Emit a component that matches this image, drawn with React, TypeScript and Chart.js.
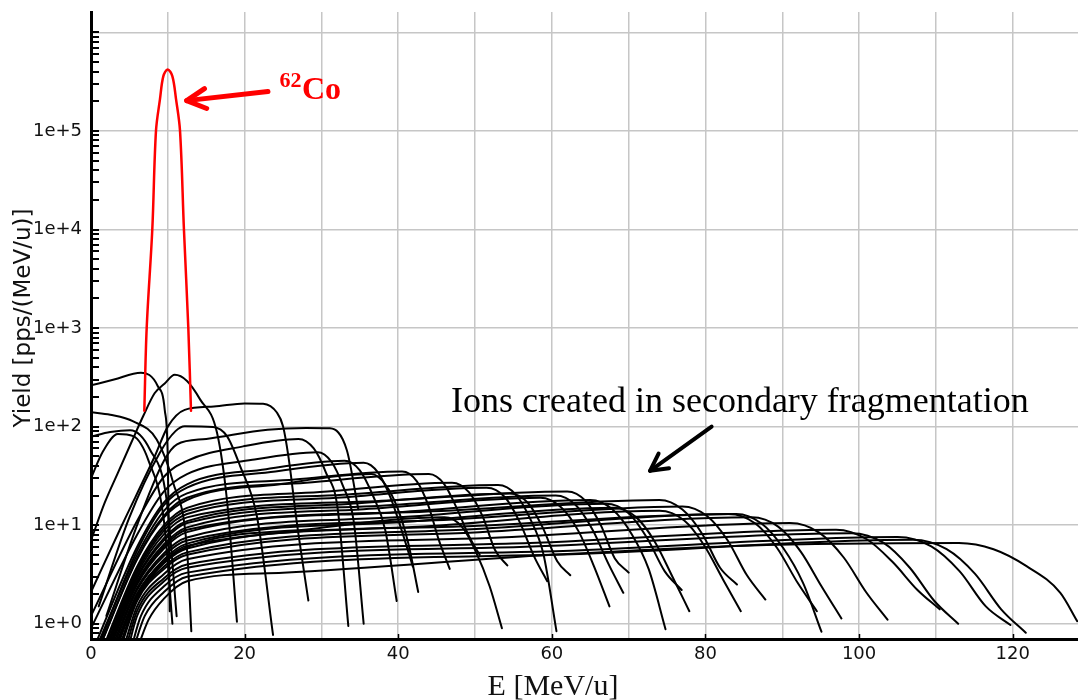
import React, { useEffect, useRef } from "react";
import { Chart, registerables } from "chart.js";

Chart.register(...registerables);

// ---------- axes ----------
const X_MIN = 0;
const X_MAX = 128.5;
const Y_MIN = 0.705;
const Y_MAX = 1.61e6;
const X_GRID = [0, 10, 20, 30, 40, 50, 60, 70, 80, 90, 100, 110, 120];
const X_LABELED = [0, 20, 40, 60, 80, 100, 120];
const Y_MAJOR = [1, 10, 100, 1e3, 1e4, 1e5, 1e6];
const Y_LABELS = ["1e+0", "1e+1", "1e+2", "1e+3", "1e+4", "1e+5", ""];
const Y_MINOR_MULT = [2, 3, 4, 5, 6, 7, 8, 9];
const Y_MINOR_LOW = [0.8, 0.9];

// ---------- data: 62Co peak (red) ----------
const CO62: number[][] = [[6.94, 145], [7.25, 1000], [7.98, 1e4], [8.46, 1e5], [8.98, 2.1e5], [9.42, 3.6e5], [9.98, 4.2e5], [10.59, 3.6e5], [11.07, 2.1e5], [11.59, 1e5], [12.1, 1e4], [12.67, 1e3], [13.02, 145]];

// ---------- data: ions created in secondary fragmentation (black) ----------
const HUMP_A = [[0, 262], [3, 300], [6.5, 352], [8.7, 257], [9.6, 148], [10.0, 46], [10.25, 1.34]];
const HUMP_B = [[0, 7], [1.8, 17], [3.5, 34], [5.25, 69], [6.8, 128], [8.3, 219], [9.6, 274], [10.9, 335], [12.5, 290], [14.2, 189], [16.4, 87], [17.7, 18], [19.0, 1.05]];
const HUMP_C = [[0, 140], [2.5, 132], [5.5, 113], [8.55, 74], [10.7, 27], [12.5, 5.7], [13.06, 0.84]];
const HUMP_D = [[0, 79], [2.5, 88], [5.1, 92], [7.7, 58], [9.85, 18], [11.15, 1.19]];
const HUMP_E = [[0, 30], [1.5, 55], [3.5, 84], [5.5, 80], [7.5, 45], [9.5, 11], [10.6, 1.0]];
const ION_F = [[0, 2.1], [3.95, 9.7], [8.3, 50], [10, 100], [12.2, 148], [16, 160], [20, 172], [22.4, 171], [24.2, 139], [25.0, 101], [25.7, 50], [26.8, 10.6], [28.3, 1.72]];
const ION_G = [[1, 1.5], [5, 12], [9, 55], [11, 90], [12.2, 101], [15.9, 99], [17.7, 80], [19.4, 40], [21.6, 12.3], [23.7, 0.77]];
const ION_H = [[2, 1.2], [6, 10], [9.5, 45], [11.2, 66], [15, 75], [23, 93], [28, 97], [31.1, 96], [33.3, 58], [34.8, 14.5]];
const ION_1 = [[0, 1.2], [6, 11], [9.5, 31], [12.5, 45], [19.8, 63], [27, 75], [29, 60], [30.6, 34], [32.1, 15], [33.5, 0.95]];
const ION_2 = [[0, 0.9], [6, 8], [9.5, 22], [12.5, 33], [21, 46], [29.5, 55], [31.3, 44], [32.8, 25], [34.2, 11], [35.5, 1.0]];
const ION_3 = [[0.5, 0.6], [6, 6], [9.5, 17], [12.5, 26], [22.8, 37], [33, 45], [35, 36], [36.7, 20], [38.3, 9], [39.8, 1.7]];
const ION_4 = [[1, 0.6], [6, 5.5], [9.5, 16], [12.5, 24], [24, 35], [35.5, 43], [37.4, 34], [39, 19], [40.5, 8.6], [41.9, 3.8]];
const ION_5 = [[1.2, 0.6], [6, 4.5], [9.5, 12], [12.5, 18], [24.5, 26], [36.5, 33], [38.3, 26], [39.9, 15], [41.3, 6.6], [42.6, 2.1]];
const ION_6 = [[0.8, 0.6], [6, 5], [9.5, 14], [12.5, 21], [26.5, 29], [40.5, 35], [42.4, 28], [43.9, 16], [45.3, 7], [46.7, 3.6]];
const ION_7 = [[1, 0.55], [6, 4.6], [9.5, 12.5], [12.5, 19], [28, 27], [44, 33], [46, 26], [47.6, 15], [49.3, 7.5], [50.6, 5.0]];
const ION_8 = [[3, 0.55], [6, 1.8], [9.5, 4.2], [12.5, 6], [29, 9.2], [46, 12], [48.3, 9.6], [50.1, 5.4], [51.9, 2.4], [53.5, 0.9]];
const ION_9 = [[1.5, 0.55], [6, 3.8], [9.5, 10], [12.5, 15], [29.8, 21.7], [47, 27], [49.2, 21.6], [51, 12.2], [52.6, 5.6], [54.2, 3.9]];
const ION_10 = [[1.8, 0.55], [6, 3.4], [9.5, 8.8], [12.5, 13], [32, 19], [51.5, 24], [53.9, 19.2], [55.8, 10.8], [57.7, 4.8], [59.4, 2.7]];
const ION_11 = [[1.6, 0.55], [6, 3.6], [9.5, 9.4], [12.5, 14], [32.8, 20.4], [53, 25.5], [55.3, 20.4], [57.2, 11.5], [58.9, 5.1], [60.6, 0.84]];
const ION_12 = [[2, 0.55], [6, 3], [9.5, 7.4], [12.5, 11], [33.5, 16.4], [54.5, 21], [56.9, 16.8], [58.8, 9.5], [60.7, 4.3], [62.4, 3.1]];
const ION_13 = [[2.2, 0.55], [6, 2.7], [9.5, 6.4], [12.5, 9.5], [35.5, 14.5], [58.5, 19], [61.2, 15.2], [63.5, 8.6], [65.5, 3.8], [67.5, 1.5]];
const ION_14 = [[2, 0.55], [6, 2.9], [9.5, 7], [12.5, 10.5], [36.5, 15.6], [60.5, 20], [63.1, 16], [65.3, 9], [67.4, 4], [69.3, 2.06]];
const ION_15 = [[1.9, 0.55], [6, 3.2], [9.5, 8.1], [12.5, 12], [37, 17.5], [62, 22], [64.4, 17.6], [66.4, 9.9], [68.2, 4.6], [70, 3.3]];
const ION_16 = [[2.4, 0.55], [6, 2.5], [9.5, 5.8], [12.5, 8.5], [38.8, 13.4], [65, 18], [67.9, 14.4], [70.4, 8.1], [72.6, 3.6], [74.8, 0.88]];
const ION_17 = [[2.6, 0.55], [6, 2.3], [9.5, 5.2], [12.5, 7.5], [39.8, 12], [67, 16.5], [70, 13.2], [72.4, 7.4], [74.7, 3.4], [76.9, 2.2]];
const ION_18 = [[3, 0.55], [6, 2], [9.5, 4.5], [12.5, 6.5], [40.3, 10.7], [68, 15], [71, 12], [73.4, 6.8], [75.7, 3], [77.9, 1.34]];
const ION_19 = [[2.3, 0.55], [6, 2.6], [9.5, 6.1], [12.5, 9], [43.3, 13.7], [74, 18], [77, 14.4], [79.6, 8.1], [81.9, 3.7], [84.1, 2.5]];
const ION_20 = [[3.3, 0.55], [6, 1.9], [9.5, 4.1], [12.5, 5.8], [43.3, 9.7], [74, 14], [77.2, 11.2], [79.8, 6.3], [82.3, 2.8], [84.6, 1.34]];
const ION_21 = [[2.8, 0.55], [6, 2.2], [9.5, 4.9], [12.5, 7], [44.8, 11.2], [77, 15.5], [80.2, 12.4], [82.9, 7], [85.4, 3.1], [87.8, 1.76]];
const ION_22 = [[3.2, 0.55], [6, 2], [9.5, 4.3], [12.5, 6.2], [47.8, 9.7], [83, 13], [86.5, 10.4], [89.3, 5.9], [92, 2.6], [94.5, 1.34]];
const ION_23 = [[3.6, 0.55], [6, 1.8], [9.5, 3.8], [12.5, 5.3], [48.3, 9], [84, 13], [87.3, 10.4], [90.1, 5.9], [92.7, 2.6], [95.1, 0.83]];
const ION_24 = [[3.8, 0.55], [6, 1.7], [9.5, 3.6], [12.5, 5], [49.3, 8.4], [86, 12], [89.5, 9.6], [92.4, 5.4], [95.1, 2.4], [97.7, 1.13]];
const ION_25 = [[4.2, 0.55], [6, 1.5], [9.5, 3.2], [12.5, 4.5], [51.8, 7.4], [91, 10.5], [94.8, 8.4], [98, 4.7], [100.9, 2.1], [103.7, 1.1]];
const ION_26 = [[4.5, 0.55], [6, 1.35], [9.5, 2.9], [12.5, 4], [54.8, 6.5], [97, 9], [101, 7.2], [104.4, 4.2], [107.6, 2.2], [110.5, 1.4]];
const ION_27 = [[4.8, 0.55], [6, 1.2], [9.5, 2.7], [12.5, 3.7], [55.8, 6], [99, 8.3], [103.2, 6.6], [106.6, 3.7], [109.8, 1.7], [112.9, 1.0]];
const ION_28 = [[5.2, 0.55], [6.5, 1.2], [9.5, 2.4], [12.5, 3.3], [58.8, 5.4], [105, 7.6], [109.4, 6.1], [113.1, 3.4], [116.5, 1.5], [119.7, 0.97]];
const ION_29 = [[5.5, 0.55], [7, 1.2], [9.5, 2.1], [12.5, 3], [59.8, 5], [107, 7.1], [111.4, 5.7], [115.1, 3.2], [118.5, 1.4], [121.7, 0.81]];
const ION_30 = [[6, 0.55], [7.5, 1.1], [9.5, 1.8], [12.5, 2.7], [25, 3.3], [60, 5], [85, 6.2], [113, 6.6], [117.5, 5.7], [121.8, 3.84], [126.2, 2.06], [128.4, 1.06]];

const FRAGMENTS = [
  HUMP_A, HUMP_B, HUMP_C, HUMP_D, HUMP_E, ION_F, ION_G, ION_H,
  ION_1, ION_2, ION_3, ION_4, ION_5, ION_6, ION_7, ION_8, ION_9, ION_10,
  ION_11, ION_12, ION_13, ION_14, ION_15, ION_16, ION_17, ION_18, ION_19, ION_20,
  ION_21, ION_22, ION_23, ION_24, ION_25, ION_26, ION_27, ION_28, ION_29, ION_30,
];

// ---------- annotations (data coordinates) ----------
const RED_ARROW = { from: [23.04, 2.51e5], to: [12.46, 2.03e5] };
const BLACK_ARROW = { from: [80.8, 100], to: [72.78, 35.6] };
const CO_MASS = { text: "62", at: [24.54, 2.78e5] };
const CO_SYMBOL = { text: "Co", at: [27.47, 2.11e5] };
const IONS_TEXT = { text: "Ions created in secondary fragmentation", at: [46.87, 140.3] };
const X_TITLE = "E [MeV/u]";
const Y_TITLE = "Yield [pps/(MeV/u)]";

const toXY = (pts: number[][]) => pts.map(([x, y]) => ({ x, y }));

function drawArrow(ctx: CanvasRenderingContext2D, x1: number, y1: number, x2: number, y2: number, color: string, lw: number, headLen: number, headHalf: number) {
  ctx.strokeStyle = color;
  ctx.lineWidth = lw;
  ctx.lineCap = "round";
  ctx.lineJoin = "round";
  ctx.beginPath();
  ctx.moveTo(x1, y1);
  ctx.lineTo(x2, y2);
  ctx.stroke();
  const dx = x2 - x1, dy = y2 - y1;
  const L = Math.hypot(dx, dy);
  const ux = dx / L, uy = dy / L;
  const bx = x2 - ux * headLen, by = y2 - uy * headLen;
  ctx.beginPath();
  ctx.moveTo(bx - uy * headHalf, by + ux * headHalf);
  ctx.lineTo(x2, y2);
  ctx.lineTo(bx + uy * headHalf, by - ux * headHalf);
  ctx.stroke();
}

const overlayPlugin = {
  id: "overlay",
  afterDraw(chart: any) {
    const { ctx, chartArea } = chart;
    const xs = chart.scales.x;
    const ys = chart.scales.y;
    ctx.save();
    // inner tick marks on Y axis (majors + minors)
    const yTicks: number[] = [...Y_MAJOR, ...Y_MINOR_LOW];
    for (const d of Y_MAJOR.slice(0, 6)) for (const m of Y_MINOR_MULT) yTicks.push(m * d);
    ctx.strokeStyle = "#000";
    ctx.lineWidth = 2;
    for (const v of yTicks) {
      if (v < Y_MIN || v > Y_MAX) continue;
      const py = Math.round(ys.getPixelForValue(v));
      ctx.beginPath();
      ctx.moveTo(chartArea.left, py);
      ctx.lineTo(chartArea.left + 8, py);
      ctx.stroke();
    }
    // small tick marks on X axis
    ctx.lineWidth = 1.5;
    for (const v of X_LABELED) {
      const px = Math.round(xs.getPixelForValue(v)) + 0.5;
      ctx.beginPath();
      ctx.moveTo(px, chartArea.bottom);
      ctx.lineTo(px, chartArea.bottom - 5);
      ctx.stroke();
    }
    // arrows
    drawArrow(ctx,
      xs.getPixelForValue(RED_ARROW.from[0]), ys.getPixelForValue(RED_ARROW.from[1]),
      xs.getPixelForValue(RED_ARROW.to[0]), ys.getPixelForValue(RED_ARROW.to[1]),
      "#ff0000", 5, 19, 10);
    drawArrow(ctx,
      xs.getPixelForValue(BLACK_ARROW.from[0]), ys.getPixelForValue(BLACK_ARROW.from[1]),
      xs.getPixelForValue(BLACK_ARROW.to[0]), ys.getPixelForValue(BLACK_ARROW.to[1]),
      "#000", 4, 17, 9);
    // texts
    ctx.textAlign = "left";
    ctx.textBaseline = "alphabetic";
    ctx.fillStyle = "#ff0000";
    ctx.font = "bold 22px 'Liberation Serif'";
    ctx.fillText(CO_MASS.text, xs.getPixelForValue(CO_MASS.at[0]), ys.getPixelForValue(CO_MASS.at[1]));
    ctx.font = "bold 32px 'Liberation Serif'";
    ctx.fillText(CO_SYMBOL.text, xs.getPixelForValue(CO_SYMBOL.at[0]), ys.getPixelForValue(CO_SYMBOL.at[1]));
    ctx.fillStyle = "#000";
    ctx.font = "36px 'Liberation Serif'";
    ctx.fillText(IONS_TEXT.text, xs.getPixelForValue(IONS_TEXT.at[0]), ys.getPixelForValue(IONS_TEXT.at[1]));
    // axis titles
    ctx.fillStyle = "#111";
    ctx.font = "30px 'Liberation Serif'";
    ctx.textAlign = "center";
    ctx.fillText(X_TITLE, 553, 695);
    ctx.save();
    ctx.translate(30, 318);
    ctx.rotate(-Math.PI / 2);
    ctx.font = "23px 'DejaVu Sans'";
    ctx.textAlign = "center";
    ctx.fillText(Y_TITLE, 0, 0);
    ctx.restore();
    ctx.restore();
  },
};

export default function App() {
  const ref = useRef<HTMLCanvasElement>(null);
  useEffect(() => {
    document.body.style.margin = "0";
    const canvas = ref.current;
    if (!canvas) return;
    const datasets: any[] = [
      { data: toXY(CO62), borderColor: "#ff0000", borderWidth: 2.5, cubicInterpolationMode: "default", tension: 0.35 },
      ...FRAGMENTS.map((d) => ({ data: toXY(d), borderColor: "#000", borderWidth: 2 })),
    ];
    const tickFont = { family: "'DejaVu Sans'", size: 18 };
    const chart = new Chart(canvas, {
      type: "line",
      data: { datasets },
      options: {
        responsive: false,
        animation: false,
        devicePixelRatio: 1,
        events: [],
        elements: {
          point: { radius: 0 },
          line: { cubicInterpolationMode: "monotone", capBezierPoints: false, borderJoinStyle: "round", borderCapStyle: "round", fill: false },
        },
        plugins: { legend: { display: false }, tooltip: { enabled: false } },
        layout: { padding: { top: 12, right: 0, bottom: 0, left: 0 } },
        scales: {
          x: {
            type: "linear",
            min: X_MIN,
            max: X_MAX,
            afterBuildTicks: (s: any) => { s.ticks = X_GRID.map((v) => ({ value: v })); },
            afterFit: (s: any) => { s.height = 61; s.paddingLeft = 0; s.paddingRight = 0; },
            ticks: {
              autoSkip: false, maxRotation: 0, minRotation: 0, padding: 5, color: "#111", font: tickFont,
              callback: (v: any) => (X_LABELED.includes(Number(v)) ? String(v) : ""),
            },
            grid: { color: "#c6c6c6", lineWidth: 1.5, drawTicks: false },
            border: { display: true, color: "#000", width: 3 },
          },
          y: {
            type: "logarithmic",
            min: Y_MIN,
            max: Y_MAX,
            afterBuildTicks: (s: any) => { s.ticks = Y_MAJOR.map((v) => ({ value: v })); },
            afterFit: (s: any) => { s.width = 91; s.paddingTop = 0; s.paddingBottom = 0; },
            ticks: {
              autoSkip: false, padding: 9, color: "#111", font: tickFont,
              callback: (v: any) => {
                const i = Y_MAJOR.findIndex((m) => Math.abs(m - Number(v)) / m < 1e-6);
                return i >= 0 ? Y_LABELS[i] : "";
              },
            },
            grid: { color: "#c6c6c6", lineWidth: 1.5, drawTicks: false },
            border: { display: true, color: "#000", width: 3 },
          },
        },
      } as any,
      plugins: [overlayPlugin],
    });
    return () => chart.destroy();
  }, []);
  return (
    <div style={{ position: "absolute", left: 0, top: 0, width: 1078, height: 700, background: "#fff" }}>
      <canvas ref={ref} width={1078} height={700} style={{ display: "block" }} />
    </div>
  );
}
